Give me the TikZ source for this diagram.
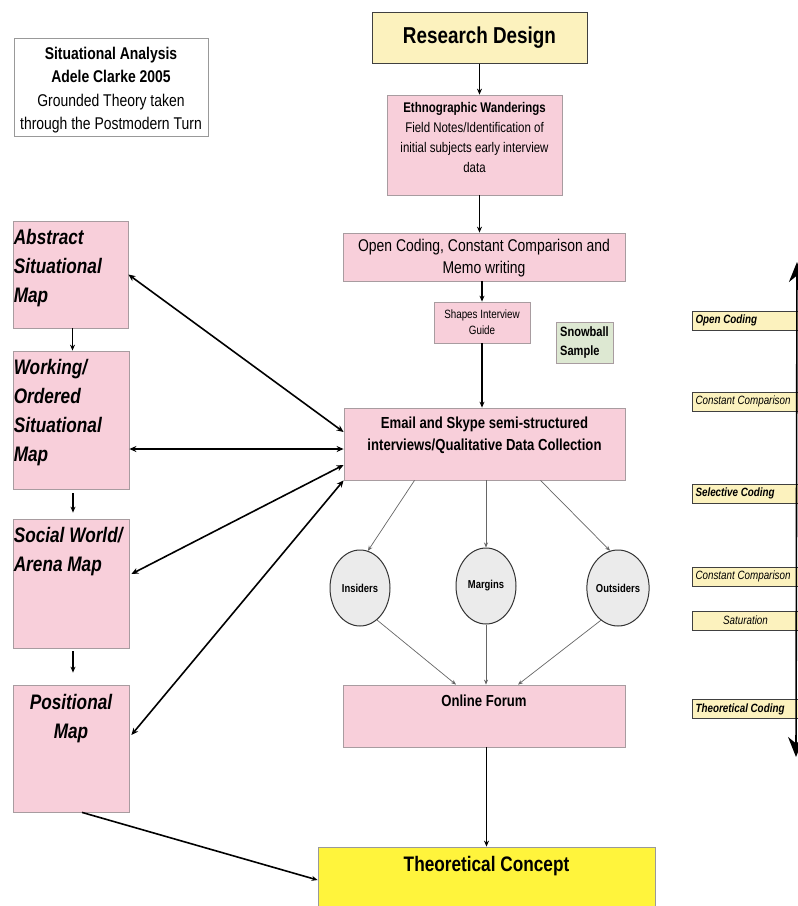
\documentclass[tikz,border=0pt]{standalone}
\usepackage{fontspec}
\setmainfont[FakeStretch=0.82]{Liberation Sans}
\usetikzlibrary{arrows.meta,shapes.geometric}
\definecolor{pinkf}{HTML}{F8CFDA}
\definecolor{pinkd}{HTML}{A89CA0}
\definecolor{lyel}{HTML}{FCF2BE}
\definecolor{yel}{HTML}{FFF43C}
\definecolor{grn}{HTML}{DDE8D2}
\definecolor{cgray}{HTML}{EBEBEB}
\newcommand\fsz[2]{\fontsize{#1}{#2}\selectfont}
\newcommand\tsp{\spaceskip=0.22em plus 0.1em\relax}
\begin{document}
\begin{tikzpicture}[x=1pt,y=-1pt,
  box/.style={draw=pinkd, line width=0.8pt, inner sep=2pt, align=center},
  pinkbox/.style={box, fill=pinkf},
  lybox/.style={draw=black!75, line width=1pt, fill=lyel, inner sep=2pt, align=center},
  circ/.style={ellipse, draw=black!80, line width=1pt, fill=cgray, minimum width=60pt, minimum height=76pt, inner sep=0pt, font=\fsz{11.5}{13}\bfseries},
  sidelab/.style={draw=black!75, line width=1pt, fill=lyel, anchor=west, minimum height=19pt, text width=112pt, inner sep=3pt, align=left, font=\fsz{12}{13}\itshape},
  sidelabb/.style={sidelab, font=\fsz{12}{13}\bfseries\itshape},
  arr/.style={-{Stealth[length=6pt,width=5pt]}, line width=1.2pt, black},
  darr/.style={{Stealth[length=7pt,width=6pt]}-{Stealth[length=7pt,width=6pt]}, line width=1.6pt, black},
  thin/.style={-{Stealth[length=5pt,width=4pt]}, line width=0.7pt, black!60},
  maplab/.style={font=\fsz{21}{29}\bfseries\itshape, align=left, inner sep=1pt, yshift=-7pt}
]
\useasboundingbox (0,0) rectangle (798,906);
\fill[white] (0,0) rectangle (798,906);

% info box
\node[draw=black!40, line width=0.8pt, fill=white, minimum width=194pt, minimum height=98pt,
  label={[yshift=-3pt, align=center, font=\fsz{17}{23.5}]center:{\textbf{Situational Analysis}\\\textbf{Adele Clarke 2005}\\Grounded Theory taken\\through the Postmodern Turn}}] (info) at (111,87) {};

% central column
\node[lybox, minimum width=215pt, minimum height=51pt, font=\fsz{23}{24}\bfseries] (rd) at (479.5,37.5) {\raisebox{3pt}{Research Design}};
\node[pinkbox, minimum width=175pt, minimum height=100pt,
  label={[anchor=north, align=center, inner sep=8pt, font=\fsz{14}{20}]north:{\textbf{Ethnographic Wanderings}\\Field Notes/Identification of\\initial subjects early interview\\data}}] (ew) at (474.5,145) {};
\node[pinkbox, minimum width=282pt, minimum height=48pt,
  label={[anchor=north, align=center, inner sep=6.5pt, font=\fsz{17}{22}]north:{Open Coding, Constant Comparison and\\Memo writing}}] (oc) at (484,257) {};
\node[pinkbox, minimum width=96pt, minimum height=41pt, font=\fsz{12}{16}] (sg) at (482,322.5) {Shapes Interview\\Guide};
\node[box, fill=grn, minimum width=57pt, minimum height=41pt, align=left, font=\fsz{13.5}{19}\bfseries] (sb) at (584.5,342.5) {Snowball\\Sample};
\node[pinkbox, minimum width=281pt, minimum height=72pt,
  label={[anchor=north, align=center, inner sep=9.5pt, font=\fsz{16}{22}\bfseries]north:{Email and Skype semi-structured\\interviews/Qualitative Data Collection}}] (em) at (484.5,444) {};

\node[circ] (ins) at (360,588) {Insiders};
\node[circ] (mar) at (486,586) {\raisebox{4pt}{Margins}};
\node[circ] (out) at (618,588) {Outsiders};

\node[pinkbox, minimum width=282pt, minimum height=62pt,
  label={[anchor=north, inner sep=10pt, font=\fsz{16}{20}\bfseries]north:{Online Forum}}] (of) at (484,716) {};
\node[draw=black!40, line width=0.8pt, fill=yel, minimum width=337pt, minimum height=66pt,
  label={[anchor=north, inner sep=9.5pt, font=\fsz{21}{24}\bfseries]north:{Theoretical Concept}}] (tc) at (486.5,880) {};

% left maps
\node[pinkbox, minimum width=115pt, minimum height=107pt,
  label={[anchor=north west, maplab]north west:{Abstract\\Situational\\Map}}] (asm) at (70.5,274.5) {};
\node[pinkbox, minimum width=116pt, minimum height=138pt,
  label={[anchor=north west, maplab]north west:{Working/\\Ordered\\Situational\\Map}}] (wsm) at (71,420) {};
\node[pinkbox, minimum width=116pt, minimum height=129pt,
  label={[anchor=north west, maplab]north west:{Social World/\\Arena Map}}] (sw) at (71,583.5) {};
\node[pinkbox, minimum width=116pt, minimum height=127pt,
  label={[anchor=north, maplab, align=center, yshift=-1pt]north:{Positional\\Map}}] (pm) at (71,748.5) {};

% right side labels
\node[sidelabb] (l1) at (692,320.5) {\tsp Open Coding};
\node[sidelab] (l2) at (692,401.5) {\tsp Constant Comparison};
\node[sidelabb] (l3) at (692,493.5) {\tsp Selective Coding};
\node[sidelab] (l4) at (692,576.5) {\tsp Constant Comparison};
\node[sidelab, text width=100pt, align=center] (l5) at (692,620.5) {Saturation};
\node[sidelabb] (l6) at (692,709) {\tsp Theoretical Coding};
\coordinate (rt) at (797,262);
\coordinate (rb) at (796,757);
\draw[{Stealth[length=20pt,width=16pt]}-{Stealth[length=20pt,width=16pt]}, line width=1.6pt] (rb) -- (rt);

% central connectors
\draw[arr] (rd.south) -- (rd.south |- ew.north);
\draw[arr] (rd.south |- ew.south) -- (rd.south |- oc.north);
\draw[arr] (sg.north |- oc.south) -- (sg.north);
\draw[arr] (sg.south) -- (sg.south |- em.north);
\draw[thin] ([xshift=-70pt]em.south) -- (ins.78);
\draw[thin] (mar.north |- em.south) -- (mar.north);
\draw[thin] ([xshift=56pt]em.south) -- (out.102);
\draw[thin] (ins.-62) -- ([xshift=-28pt]of.north);
\draw[thin] (mar.south) -- (mar.south |- of.north);
\draw[thin] (out.-118) -- ([xshift=34pt]of.north);
\draw[arr] (tc.north |- of.south) -- (tc.north);

% left column connectors
\draw[arr] ([xshift=2pt]asm.south) -- ([xshift=1.5pt]wsm.north);
\draw[arr, shorten <=4pt, shorten >=6pt] ([xshift=2pt]wsm.south) -- ([xshift=2pt]sw.north);
\draw[arr, shorten <=3pt, shorten >=12pt] ([xshift=2pt]sw.south) -- ([xshift=2pt]pm.north);

% map <-> interviews
\draw[darr] (asm.east) -- ([yshift=12pt]em.west);
\coordinate (e2) at ([yshift=-5pt]em.west);
\draw[darr] (e2 -| wsm.east) -- (e2);
\draw[darr] ([xshift=2pt,yshift=9.5pt]sw.east) -- ([yshift=-21pt]em.west);
\draw[darr] ([xshift=2pt,yshift=13.5pt]pm.east) -- (em.south west);
\draw[arr, line width=1.6pt] ([xshift=11pt]pm.south) -- (tc.west);
\end{tikzpicture}
\end{document}
